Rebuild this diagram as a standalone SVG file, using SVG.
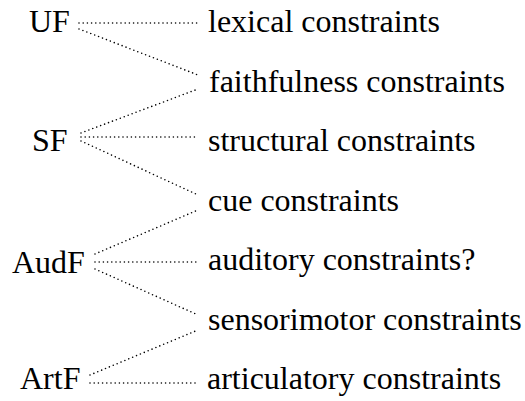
<svg xmlns="http://www.w3.org/2000/svg" width="525" height="401" viewBox="0 0 525 401">
<style>
text{font-family:"Liberation Serif","Times New Roman",serif;font-size:32px;fill:#000}
.c line{stroke:#000;stroke-width:1.6;stroke-dasharray:0 4.2;stroke-linecap:round;fill:none}
</style>
<rect width="525" height="401" fill="#fff"/>
<g class="c" id="connectors">
<line x1="79" y1="23" x2="198" y2="23"/>
<line x1="79" y1="29" x2="198" y2="75"/>
<line x1="81" y1="133" x2="198" y2="89"/>
<line x1="81" y1="137" x2="198" y2="137"/>
<line x1="81" y1="141" x2="198" y2="195"/>
<line x1="95" y1="254" x2="198" y2="210"/>
<line x1="95" y1="262" x2="198" y2="262"/>
<line x1="95" y1="269" x2="198" y2="315"/>
<line x1="90" y1="375" x2="198" y2="330"/>
<line x1="90" y1="383" x2="198" y2="383"/>
</g>
<g id="UF"><text x="29" y="32">UF</text></g>
<g id="SF"><text x="32" y="151">SF</text></g>
<g id="AudF"><text x="12" y="273">AudF</text></g>
<g id="ArtF"><text x="20" y="389">ArtF</text></g>
<g id="lexical"><text x="208" y="32">lexical constraints</text></g>
<g id="faithfulness"><text x="209" y="92">faithfulness constraints</text></g>
<g id="structural"><text x="208" y="151">structural constraints</text></g>
<g id="cue"><text x="208" y="211">cue constraints</text></g>
<g id="auditory"><text x="208" y="270">auditory constraints?</text></g>
<g id="sensorimotor"><text x="208" y="330">sensorimotor constraints</text></g>
<g id="articulatory"><text x="207" y="389">articulatory constraints</text></g>
</svg>
